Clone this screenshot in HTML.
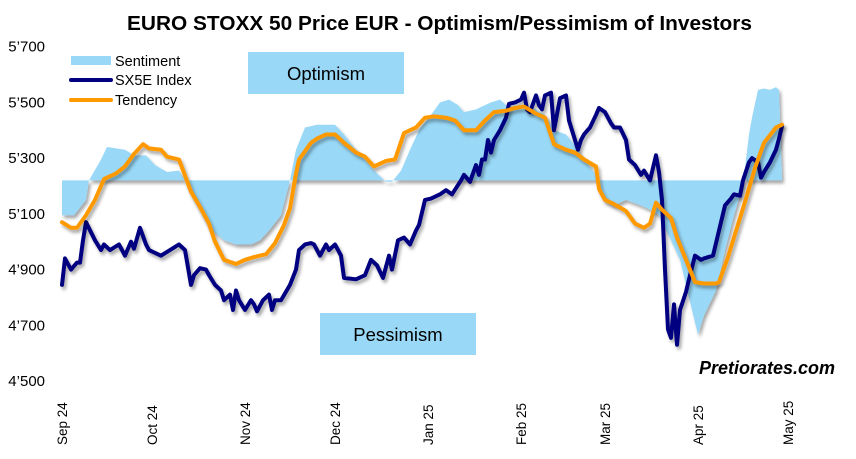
<!DOCTYPE html>
<html><head><meta charset="utf-8"><style>
body{margin:0;background:#fff;width:856px;height:459px;overflow:hidden;font-family:"Liberation Sans",Arial,sans-serif}
svg{display:block}
</style></head><body>
<svg id="chart" width="856" height="459" xmlns="http://www.w3.org/2000/svg">
<defs><filter id="sh" x="-5%" y="-5%" width="110%" height="115%"><feDropShadow dx="2" dy="3" stdDeviation="1.5" flood-color="#000" flood-opacity="0.35"/></filter></defs>
<text x="127" y="30" textLength="625" lengthAdjust="spacingAndGlyphs" font-size="20" font-weight="bold">EURO STOXX 50 Price EUR - Optimism/Pessimism of Investors</text>
<g id="yaxis"></g>
<g id="xaxis"></g>
<g id="plot"></g>
<rect x="248" y="52" width="156" height="42" fill="#99d8f7"/>
<text x="326" y="80" text-anchor="middle" font-size="18.5">Optimism</text>
<rect x="320" y="313" width="156" height="42" fill="#99d8f7"/>
<text x="398" y="341" text-anchor="middle" font-size="18.5">Pessimism</text>
<g>
<rect x="71" y="56" width="40" height="9" fill="#99d8f7"/>
<text x="115" y="66" font-size="14.5">Sentiment</text>
<line x1="71" y1="80" x2="111" y2="80" stroke="#000080" stroke-width="4" stroke-linecap="round"/>
<text x="115" y="85" font-size="14.5">SX5E Index</text>
<line x1="71" y1="100" x2="111" y2="100" stroke="#ff9900" stroke-width="4" stroke-linecap="round"/>
<text x="115" y="105" font-size="14.5">Tendency</text>
</g>
<text x="835" y="374" text-anchor="end" font-size="18" font-weight="bold" font-style="italic">Pretiorates.com</text>
</svg>
<script>
const yTicks=[4500,4700,4900,5100,5300,5500,5700];
const yTickLabels=["4’500","4’700","4’900","5’100","5’300","5’500","5’700"];
const xTickDays=[0,30,61,91,122,153,181,212,242];
const xTickLabels=["Sep 24","Oct 24","Nov 24","Dec 24","Jan 25","Feb 25","Mar 25","Apr 25","May 25"];
const baseline=5220;
const sentDays=[0,4,8,9,13,15,18,21,24,28,31,35,39,41,44,49,54,58,63,66,69,73,76,78,81,85,91,94,98,101,104,108,110,113,116,119,123,126,129,132,134,138,141,143,146,149,153,158,161,164,168,171,174,178,181,184,188,193,196,199,203,206,209,212,214,218,221,224,227,229,230,232,234,236,238,239,240];
const sentVals=[5095,5095,5150,5220,5295,5340,5335,5330,5310,5310,5275,5250,5255,5220,5150,5050,5005,4990,4990,5005,5040,5095,5220,5330,5410,5420,5420,5385,5330,5295,5255,5215,5215,5255,5330,5400,5455,5500,5510,5490,5465,5475,5490,5500,5510,5480,5475,5475,5455,5400,5385,5345,5295,5240,5150,5130,5150,5130,5115,5095,5005,4935,4800,4665,4735,4825,4970,5095,5205,5385,5445,5545,5550,5545,5555,5545,5220];
const idxDays=[0,1,3,5,6,7,8,11,13,14,16,19,21,23,24,26,28,29,33,36,39,41,43,44,46,48,49,51,53,54,56,57,58,59,61,63,64,65,67,69,70,71,73,76,78,79,81,83,84,86,88,89,91,93,94,98,101,103,105,107,109,110,112,114,116,118,119,121,123,126,128,130,133,134,136,138,139,140,141,142,143,144,146,148,149,151,153,154,155,156,158,159,160,161,163,164,166,168,169,171,172,173,174,176,178,179,181,183,184,186,188,189,191,193,194,196,198,199,200,201,202,203,204,205,206,208,209,211,213,214,217,219,221,223,224,226,227,229,230,232,233,234,236,238,239,240];
const idxVals=[4845,4940,4900,4925,4925,5005,5070,5005,4970,4990,4970,4990,4950,5000,4975,5050,4990,4970,4950,4970,4990,4970,4845,4880,4905,4900,4880,4845,4825,4790,4810,4755,4825,4790,4755,4790,4775,4750,4790,4810,4755,4790,4790,4845,4900,4970,4990,4995,4990,4950,4990,4970,4990,4950,4870,4865,4880,4935,4915,4870,4950,4900,5005,5015,4990,5040,5060,5150,5155,5170,5185,5170,5220,5240,5215,5275,5240,5295,5295,5365,5320,5365,5400,5445,5495,5500,5510,5535,5475,5465,5525,5490,5475,5525,5535,5400,5515,5525,5435,5365,5330,5365,5385,5410,5455,5480,5465,5425,5410,5410,5365,5295,5275,5240,5255,5220,5310,5250,5150,4900,4685,4655,4775,4630,4755,4820,4865,4950,4935,4940,4950,5040,5130,5155,5170,5165,5220,5285,5300,5285,5230,5250,5285,5330,5370,5415];
const tenDays=[0,3,5,8,11,14,18,21,24,27,29,33,35,39,43,46,49,51,54,58,61,64,68,71,74,76,78,79,83,85,88,91,94,98,101,104,108,111,114,118,121,124,128,131,134,138,141,144,148,151,154,158,161,164,168,171,174,178,179,181,184,188,191,194,196,198,200,203,205,208,211,214,218,219,222,225,228,231,234,238,240];
const tenVals=[5070,5050,5050,5095,5150,5225,5245,5270,5315,5350,5335,5330,5305,5295,5180,5125,5065,5000,4935,4920,4935,4945,4955,4995,5060,5120,5245,5295,5355,5370,5385,5385,5355,5320,5305,5270,5290,5295,5390,5410,5445,5450,5445,5435,5400,5400,5435,5465,5470,5480,5485,5460,5445,5350,5330,5320,5295,5270,5190,5150,5135,5110,5065,5050,5065,5140,5115,5085,5015,4935,4855,4850,4850,4855,4945,5050,5155,5265,5355,5410,5420];
const X=d=>62+d*3.0;
const Y=v=>381-(v-4500)*0.2786;
const NS="http://www.w3.org/2000/svg";
function mk(t,a,p){const e=document.createElementNS(NS,t);for(const k in a)e.setAttribute(k,a[k]);p.appendChild(e);return e;}
const ya=document.getElementById('yaxis'),xa=document.getElementById('xaxis'),pl=document.getElementById('plot');
yTicks.forEach((v,i)=>{const t=mk('text',{x:45,y:Y(v)+5,'text-anchor':'end','font-size':'15'},ya);t.textContent=yTickLabels[i];

});
xTickDays.forEach((d,i)=>{const t=mk('text',{transform:`translate(${X(d)+5},445) rotate(-90)`,'font-size':'13.5'},xa);t.textContent=xTickLabels[i];

});
let p=`M${X(sentDays[0])},${Y(baseline)}`;sentDays.forEach((d,i)=>p+=`L${X(d)},${Y(sentVals[i])}`);p+=`L${X(sentDays[sentDays.length-1])},${Y(baseline)}Z`;
const area=mk('path',{d:p,fill:'#99d8f7',filter:'url(#sh)'},pl);


function line(ds,vs,c){return mk('polyline',{points:ds.map((d,i)=>X(d)+','+Y(vs[i])).join(' '),fill:'none',stroke:c,'stroke-width':4,'stroke-linejoin':'round','stroke-linecap':'round',filter:'url(#sh)'},pl);}
const li=line(idxDays,idxVals,'#000080');


const lt=line(tenDays,tenVals,'#ff9900');


</script>
</body></html>
